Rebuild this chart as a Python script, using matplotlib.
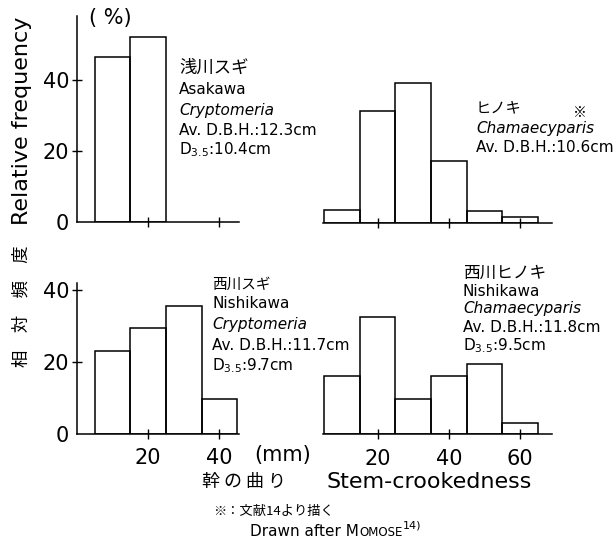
import matplotlib.pyplot as plt

plt.rcParams['font.family'] = ['DejaVu Sans', 'Noto Sans CJK JP']
plt.rcParams['mathtext.fontset'] = 'dejavusans'

JP = 'Noto Sans CJK JP'

# Class centres of stem-crookedness (mm)
classes_sugi = [10, 20, 30, 40]
classes_hinoki = [10, 20, 30, 40, 50, 60]

# Relative frequencies (%)
asakawa_sugi = [46.5, 52.0]
hinoki = [3.6, 31.5, 39.5, 17.5, 3.5, 1.8]
nishikawa_sugi = [23.0, 29.3, 35.5, 9.7]
nishikawa_hinoki = [16.1, 32.6, 9.6, 16.2, 19.4, 3.0]

W, H = 615, 543
fig = plt.figure(figsize=(W / 100, H / 100), dpi=100)


def pos(x, y):
    return x / W, 1 - y / H


def panel(left, base, width, height, xlim, ylim):
    ax = fig.add_axes([left / W, (H - base) / H, width / W, height / H])
    ax.set_xlim(*xlim)
    ax.set_ylim(*ylim)
    ax.patch.set_visible(False)
    for s in ['top', 'right']:
        ax.spines[s].set_visible(False)
    ax.spines['bottom'].set_linewidth(1.1)
    ax.spines['left'].set_linewidth(1.1)
    ax.tick_params(direction='inout', length=7, width=1.0, labelsize=15)
    return ax


def barras(ax, x, y):
    ax.bar(x[:len(y)], y, width=10, fill=False, edgecolor='black',
           linewidth=1.1)


def eixo_esquerdo(ax, rotulos_x):
    ax.set_yticks([0, 20, 40])
    ax.yaxis.get_major_ticks()[0].tick1line.set_visible(False)
    ax.tick_params(axis='y', pad=2)
    ax.set_xticks([20, 40])
    ax.tick_params(axis='x', pad=7, labelbottom=rotulos_x)


def eixo_direito(ax, rotulos_x):
    ax.spines['left'].set_visible(False)
    ax.set_yticks([])
    ax.set_xticks([20, 40, 60])
    ax.tick_params(axis='x', pad=7, labelbottom=rotulos_x)


# Top row
ax1 = panel(77, 222, 162, 206, (0, 45.5), (0, 58))
barras(ax1, classes_sugi, asakawa_sugi)
eixo_esquerdo(ax1, False)

ax2 = panel(322.5, 223, 229.6, 160, (4.5, 69), (0, 45))
barras(ax2, classes_hinoki, hinoki)
eixo_direito(ax2, False)

# Bottom row
ax3 = panel(77, 433.5, 162, 151, (0, 45.5), (0, 42))
barras(ax3, classes_sugi, nishikawa_sugi)
eixo_esquerdo(ax3, True)

ax4 = panel(322.5, 434, 229.6, 151, (4.5, 69), (0, 42))
barras(ax4, classes_hinoki, nishikawa_hinoki)
eixo_direito(ax4, True)


def bloco(x, ys, linhas, size=11, size_jp=11):
    for y, (txt, estilo) in zip(ys, linhas):
        kw = dict(fontsize=size, va='center', ha='left')
        if estilo == 'jp':
            kw['family'] = JP
            kw['fontsize'] = size_jp
        elif estilo == 'it':
            kw['style'] = 'italic'
        fig.text(*pos(x, y), txt, **kw)


bloco(179, [68, 89, 110, 131, 150], [
    ('浅川スギ', 'jp'),
    ('Asakawa', ''),
    ('Cryptomeria', 'it'),
    ('Av. D.B.H.:12.3cm', ''),
    ('D$_{3.5}$:10.4cm', ''),
], size_jp=12.5)

bloco(476, [108, 128, 148], [
    ('ヒノキ', 'jp'),
    ('Chamaecyparis', 'it'),
    ('Av. D.B.H.:10.6cm', ''),
], size_jp=11)
fig.text(*pos(580, 113), '※', family=JP, fontsize=10, ha='center',
         va='center')

bloco(212, [285, 304, 325, 346, 366], [
    ('西川スギ', 'jp'),
    ('Nishikawa', ''),
    ('Cryptomeria', 'it'),
    ('Av. D.B.H.:11.7cm', ''),
    ('D$_{3.5}$:9.7cm', ''),
], size_jp=10.5)

bloco(463, [273, 292, 309, 328, 346], [
    ('西川ヒノキ', 'jp'),
    ('Nishikawa', ''),
    ('Chamaecyparis', 'it'),
    ('Av. D.B.H.:11.8cm', ''),
    ('D$_{3.5}$:9.5cm', ''),
], size_jp=12)

# Axis titles
fig.text(*pos(22, 121), 'Relative frequency', rotation=90, fontsize=16,
         ha='center', va='center')
fig.text(*pos(22, 306), '相\u3000対\u3000頻\u3000度', family=JP,
         rotation=90, fontsize=12.5, ha='center', va='center')
fig.text(*pos(110, 18), '( %)', fontsize=15, ha='center', va='center')
fig.text(*pos(283, 455), '(mm)', fontsize=15, ha='center', va='center')
fig.text(*pos(244, 482), '幹 の 曲 り', family=JP, fontsize=13,
         ha='center', va='center')
fig.text(*pos(327, 482), 'Stem-crookedness', fontsize=16, ha='left',
         va='center')

# Footnote, with the author's name in small capitals
fig.text(*pos(213, 511), '※：文献14より描く', family=JP, fontsize=9.5,
         ha='left', va='center')
renderer = fig.canvas.get_renderer()
t = fig.text(*pos(250, 536), 'Drawn after M', fontsize=11, ha='left',
             va='baseline')
x_fim = t.get_window_extent(renderer).x1
t2 = fig.text(x_fim / W, 1 - 536 / H, 'OMOSE', fontsize=8.5, ha='left',
              va='baseline')
x_fim = t2.get_window_extent(renderer).x1
fig.text((x_fim + 1) / W, 1 - 529 / H, '14)', fontsize=8, ha='left',
         va='baseline')

fig.savefig('out.png', dpi=100)
